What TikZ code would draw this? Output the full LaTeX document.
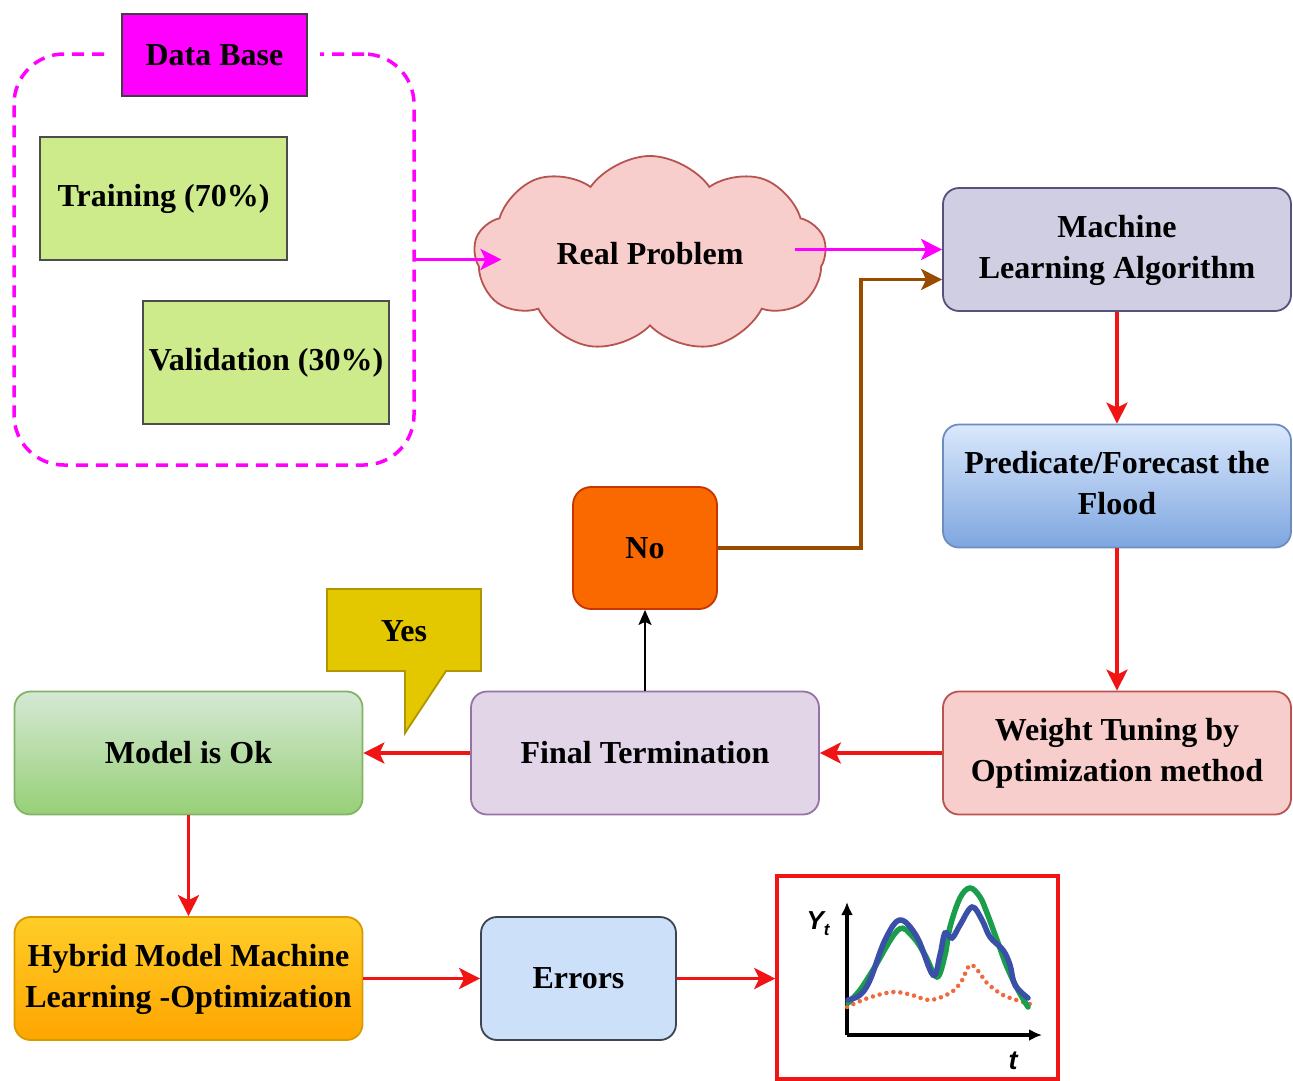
\documentclass[tikz,border=0pt]{standalone}
\usepackage{fontspec}
\setmainfont{Liberation Serif}
\newfontfamily\chartfont{Liberation Sans}
\usetikzlibrary{shapes.symbols,arrows.meta,calc}
\definecolor{magentaC}{HTML}{FF00FF}
\definecolor{greenC}{HTML}{CDEB8B}
\definecolor{cloudF}{HTML}{F8CECC}
\definecolor{cloudD}{HTML}{B85450}
\definecolor{mlF}{HTML}{D0CEE2}
\definecolor{mlD}{HTML}{56517E}
\definecolor{predT}{HTML}{DAE8FC}
\definecolor{predB}{HTML}{7EA6E0}
\definecolor{predD}{HTML}{6C8EBF}
\definecolor{finF}{HTML}{E1D5E7}
\definecolor{finD}{HTML}{9673A6}
\definecolor{okT}{HTML}{D5E8D4}
\definecolor{okB}{HTML}{97D077}
\definecolor{okD}{HTML}{82B366}
\definecolor{hyT}{HTML}{FFCD28}
\definecolor{hyB}{HTML}{FFA500}
\definecolor{hyD}{HTML}{D79B00}
\definecolor{errF}{HTML}{CCE0FA}
\definecolor{errD}{HTML}{3D4550}
\definecolor{noF}{HTML}{FA6800}
\definecolor{noD}{HTML}{C73500}
\definecolor{yesF}{HTML}{E3C800}
\definecolor{yesD}{HTML}{B09500}
\definecolor{brownC}{HTML}{994C00}
\definecolor{redC}{HTML}{F01414}
\definecolor{curveG}{HTML}{1A9E4A}
\definecolor{curveB}{HTML}{3A50A8}
\definecolor{curveO}{HTML}{F06A40}
\newcommand{\twoline}[2]{\raisebox{-3pt}{\begin{tabular}{@{}c@{}}#1\\#2\end{tabular}}}
\tikzset{
  txt/.style={font=\fontsize{32}{41}\selectfont\bfseries, align=center, text=black},
  plainbox/.style={txt, draw=#1, line width=1.8pt, inner sep=0pt},
  rbox/.style={txt, draw=#1, line width=1.8pt, rounded corners=16pt, inner sep=0pt, minimum width=348pt, minimum height=123pt},
  redarrow/.style={draw=redC, line width=3.5pt, -{Stealth[length=21pt,width=21pt,inset=5pt]}},
  pinkarrow/.style={draw=magentaC, line width=3.5pt, -{Stealth[length=21pt,width=21pt,inset=5pt]}},
}
\begin{document}
\begin{tikzpicture}[x=1pt,y=-1pt]
\useasboundingbox[fill=white] (0,0) rectangle (1293,1080);

% dashed data base frame
\node[draw=magentaC, line width=3.5pt, dash pattern=on 12pt off 8pt, rounded corners=50pt,
      minimum width=400pt, minimum height=411pt, inner sep=0pt] (frame) at (214,259.5) {};
\fill[white] (110,40) rectangle (320,70);
\node[plainbox=black!75, fill=magentaC, minimum width=185pt, minimum height=82pt] (db) at (214.5,55) {\raisebox{-3pt}{Data Base}};
\node[plainbox=black!70, fill=greenC, minimum width=247pt, minimum height=123pt] (train) at (163.5,198.5) {\raisebox{-3pt}{Training (70\%)}};
\node[plainbox=black!70, fill=greenC, minimum width=246pt, minimum height=123pt] (valid) at (266,362.5) {\raisebox{-3pt}{Validation (30\%)}};

% cloud
\node[txt, cloud, cloud puffs=9, cloud puff arc=110, aspect=1.9, draw=cloudD, fill=cloudF,
      line width=1.8pt, minimum width=352pt, minimum height=196pt, inner sep=0pt] (cloud) at (650,254) {Real Problem};

% right column
\node[rbox=mlD, fill=mlF] (ml) at (1117,249.5) {\twoline{Machine}{Learning Algorithm}};
\node[rbox=predD, top color=predT, bottom color=predB] (pred) at (1117,486) {\twoline{Predicate/Forecast the}{Flood}};
\node[rbox=cloudD, fill=cloudF] (weight) at (1117,753) {\twoline{Weight Tuning by}{Optimization method}};
\node[rbox=finD, fill=finF] (final) at (645,753) {Final Termination};
\node[rbox=okD, top color=okT, bottom color=okB] (ok) at (188.5,753) {Model is Ok};
\node[rbox=hyD, top color=hyT, bottom color=hyB] (hybrid) at (188.5,978.5) {\twoline{Hybrid Model Machine}{Learning -Optimization}};
\node[rbox=errD, fill=errF, minimum width=195pt] (err) at (578.5,978.5) {Errors};
\node[txt, draw=noD, fill=noF, line width=1.8pt, rounded corners=18pt, minimum width=144pt, minimum height=122pt, inner sep=0pt] (no) at (645,548) {No};

% yes callout
\draw[draw=yesD, fill=yesF, line width=1.8pt] (327,589) -- (481,589) -- (481,671) -- (446,671) -- (405,733) -- (405,671) -- (327,671) -- cycle;
\node[txt] (yes) at (404,631) {Yes};

% chart
\node[draw=redC, line width=3.5pt, minimum width=281pt, minimum height=203pt, inner sep=0pt] (chart) at (917.5,977.5) {};
\coordinate (orig) at (847,1035);
\draw[line width=4pt, -{Latex[length=13pt,width=12pt]}] (orig) -- (847,902);
\draw[line width=4pt, -{Latex[length=13pt,width=12pt]}] (orig) -- (1042,1035);
\node[font=\chartfont\bfseries\itshape\fontsize{26}{26}\selectfont] (ylab) at (818,924) {Y\raisebox{-6pt}{\fontsize{17}{17}\selectfont t}};
\node[font=\chartfont\bfseries\itshape\fontsize{27}{27}\selectfont] (tlab) at (1013,1061) {t};
\draw[curveO, line width=4.5pt, dash pattern=on 0pt off 7pt, line cap=round] plot[smooth, tension=0.6] coordinates {(847,1007) (868,998) (893,992) (912,995) (930,1000) (950,993) (961,982) (970,965) (979,972) (987,983) (1003,995) (1023,1002) (1030,1004)};
\draw[curveG, line width=5.5pt, line cap=round] plot[smooth, tension=0.6] coordinates {(848,1003) (860,990) (873,970) (898,930) (913,937) (925,955) (937,977) (945,955) (950,927) (960,898) (970,888) (980,897) (987,913) (997,940) (1007,967) (1018,990) (1028,1007)};
\draw[curveB, line width=5.5pt, line cap=round] plot[smooth, tension=0.6] coordinates {(848,1000) (860,995) (870,980) (885,940) (900,920) (917,937) (933,975) (940,955) (945,933) (952,938) (960,925) (972,907) (982,920) (990,937) (1003,950) (1010,965) (1015,985) (1028,998)};

% connectors
\draw[pinkarrow] (frame.east) -- ($(frame.east -| cloud.west)+(28,0)$);
\draw[pinkarrow] ($(ml.west -| cloud.east)+(-32,0)$) -- (ml.west);
\draw[redarrow] (ml.south) -- (pred.north);
\draw[redarrow] (pred.south) -- (weight.north);
\draw[redarrow] (weight.west) -- (final.east);
\draw[redarrow] (final.west) -- (ok.east);
\draw[draw=black, line width=1.8pt, -{Stealth[length=15pt,width=13pt,inset=3pt]}] (final.north) -- (no.south);
\draw[draw=brownC, line width=3.5pt, -{Stealth[length=21pt,width=21pt,inset=5pt]}] (no.east) -- ++(143,0) |- ($(ml.west)+(0,30)$);
\draw[redarrow] (ok.south) -- (hybrid.north);
\draw[redarrow] (hybrid.east) -- (err.west);
\draw[redarrow] (err.east) -- (err.east -| chart.west);
\end{tikzpicture}
\end{document}
